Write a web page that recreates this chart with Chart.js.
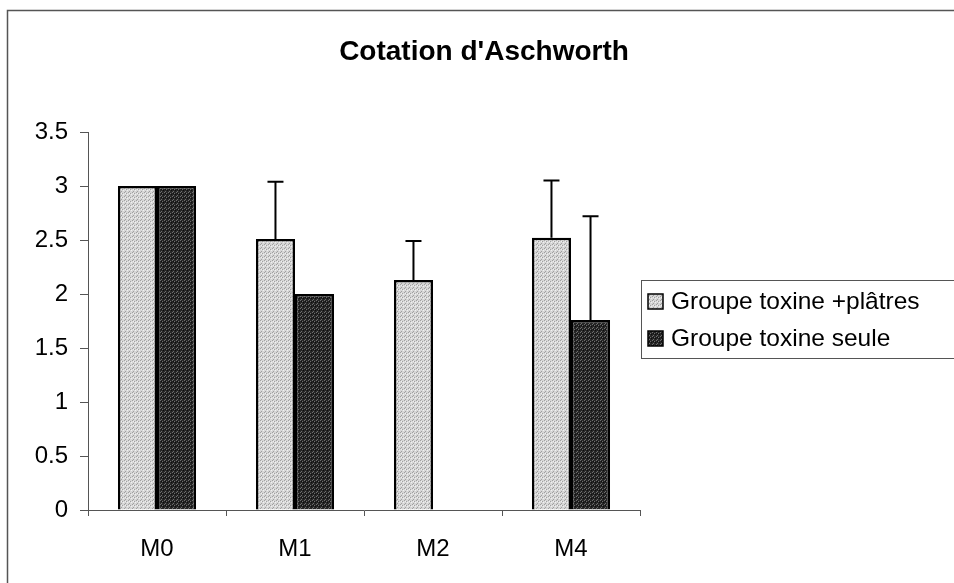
<!DOCTYPE html>
<html>
<head>
<meta charset="utf-8">
<title>Cotation d'Aschworth</title>
<script src="https://cdn.jsdelivr.net/npm/chart.js@4.4.0/dist/chart.umd.min.js"></script>
<style>
  html, body { margin: 0; padding: 0; background: #fff; }
  #wrap { width: 954px; height: 583px; }
</style>
</head>
<body>
<div id="wrap"><canvas id="chart" width="954" height="583"></canvas></div>
<script>
// data
const titleText = "Cotation d'Aschworth"
const categories = ["M0", "M1", "M2", "M4"]
const seriesNames = ["Groupe toxine +plâtres", "Groupe toxine seule"]
const platresValues = [3, 2.51, 2.13, 2.52]
const platresErrors = [0, 0.53, 0.36, 0.53]
const seuleValues = [3, 2.0, null, 1.76]
const seuleErrors = [0, 0, null, 0.96]
const yTicks = [0, 0.5, 1, 1.5, 2, 2.5, 3, 3.5]

const FONT = "'Liberation Sans', Arial, sans-serif"
Chart.defaults.font.family = FONT
Chart.defaults.color = "#000"

// stippled fill like the old excel print
function makePattern(base, dot, dot2) {
    var c = document.createElement("canvas")
    c.width = 4
    c.height = 4
    var g = c.getContext("2d")
    g.fillStyle = base
    g.fillRect(0, 0, 4, 4)
    g.fillStyle = dot
    g.fillRect(0, 0, 1, 1)
    g.fillRect(2, 1, 1, 1)
    g.fillRect(1, 3, 1, 1)
    g.fillStyle = dot2
    g.fillRect(3, 2, 1, 1)
    g.fillRect(1, 1, 1, 1)
    return g.createPattern(c, "repeat")
}
var lightFill = makePattern("#d6d6d6", "#a0a0a0", "#f0f0f0")
var darkFill = makePattern("#262626", "#6e6e6e", "#0e0e0e")

const errorSets = [platresErrors, seuleErrors]

const errorBars = {
    id: "errorBars",
    afterDatasetsDraw(chart) {
        var ctx = chart.ctx
        var y = chart.scales.y
        ctx.save()
        ctx.strokeStyle = "#000"
        ctx.lineWidth = 2
        chart.data.datasets.forEach((ds, i) => {
            var meta = chart.getDatasetMeta(i)
            errorSets[i].forEach((err, j) => {
                if (!err || ds.data[j] == null) return
                var bar = meta.data[j]
                var top = y.getPixelForValue(ds.data[j] + err)
                ctx.beginPath()
                ctx.moveTo(bar.x, bar.y)
                ctx.lineTo(bar.x, top)
                ctx.moveTo(bar.x - 8, top)
                ctx.lineTo(bar.x + 8, top)
                ctx.stroke()
            })
        })
        ctx.restore()
    }
}

const decor = {
    id: "decor",
    beforeDraw(chart) {
        var ctx = chart.ctx
        ctx.save()
        ctx.fillStyle = "#fff"
        ctx.fillRect(0, 0, chart.width, chart.height)
        ctx.strokeStyle = "#555"
        ctx.lineWidth = 1.5
        ctx.strokeRect(7.5, 10.5, chart.width + 20, chart.height + 20)
        ctx.restore()
    },
    afterDraw(chart) {
        var ctx = chart.ctx
        var area = chart.chartArea
        ctx.save()
        // title
        ctx.fillStyle = "#000"
        ctx.font = "bold 28px " + FONT
        ctx.textAlign = "center"
        ctx.textBaseline = "middle"
        ctx.fillText(titleText, chart.width / 2 + 7, 52)

        // legend box
        var rowH = 37
        var boxH = rowH * 2 + 4
        var bx = area.right + 1
        var by = (area.top + area.bottom) / 2 - boxH / 2 - 2
        ctx.strokeStyle = "#555"
        ctx.lineWidth = 1
        ctx.strokeRect(bx + 0.5, by + 0.5, chart.width, boxH)
        ctx.font = "24.5px " + FONT
        ctx.textAlign = "left"
        chart.data.datasets.forEach((ds, i) => {
            var cy = by + 21 + i * rowH
            ctx.fillStyle = ds.backgroundColor
            ctx.fillRect(bx + 7, cy - 7, 15, 15)
            ctx.strokeStyle = "#000"
            ctx.lineWidth = 1.5
            ctx.strokeRect(bx + 7, cy - 7, 15, 15)
            ctx.fillStyle = "#000"
            ctx.fillText(ds.label, bx + 30, cy + 1)
        })
        ctx.restore()
    }
}

var _canvas = document.getElementById("chart").getContext("2d")
var graph = new Chart(_canvas, {
    type: "bar",
    data: {
        labels: categories,
        datasets: [{
            label: seriesNames[0],
            data: platresValues,
            backgroundColor: lightFill,
            borderColor: "#000",
            borderWidth: 2.5,
            borderSkipped: "start"
        }, {
            label: seriesNames[1],
            data: seuleValues,
            backgroundColor: darkFill,
            borderColor: "#000",
            borderWidth: 2.5,
            borderSkipped: "start"
        }]
    },
    options: {
        responsive: false,
        animation: false,
        events: [],
        layout: {
            padding: { left: 0, right: 314, top: 132, bottom: 0 }
        },
        datasets: {
            bar: {
                categoryPercentage: 0.566,
                barPercentage: 1.0
            }
        },
        plugins: {
            legend: { display: false },
            title: { display: false },
            tooltip: { enabled: false }
        },
        scales: {
            x: {
                offset: true,
                grid: {
                    display: true,
                    offset: true,
                    drawOnChartArea: false,
                    drawTicks: true,
                    tickLength: 6,
                    color: "#555"
                },
                border: { display: true, color: "#555", width: 1 },
                ticks: {
                    font: { size: 24 },
                    color: "#000",
                    padding: 19
                },
                afterFit: (scale) => { scale.height = 73 }
            },
            y: {
                min: 0,
                max: 3.5,
                afterBuildTicks: (scale) => {
                    scale.ticks = yTicks.map(v => ({ value: v }))
                },
                grid: {
                    display: true,
                    drawOnChartArea: false,
                    drawTicks: true,
                    tickLength: 8,
                    color: "#555"
                },
                border: { display: true, color: "#555", width: 1 },
                ticks: {
                    font: { size: 24 },
                    color: "#000",
                    padding: 12,
                    callback: (v) => String(v)
                },
                afterFit: (scale) => { scale.width = 88 }
            }
        }
    },
    plugins: [decor, errorBars]
})
</script>
</body>
</html>
